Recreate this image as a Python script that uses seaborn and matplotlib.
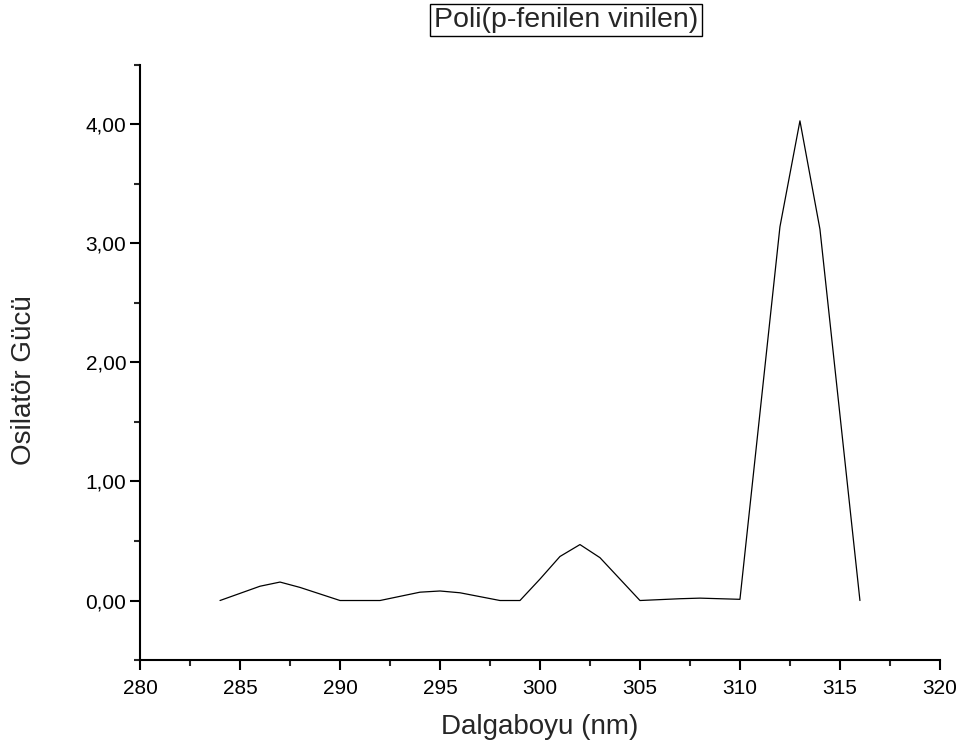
import matplotlib
matplotlib.use("Agg")
import matplotlib.pyplot as plt
import seaborn as sns
import pandas as pd
from matplotlib.ticker import MultipleLocator, FuncFormatter

wavelength = [284, 286, 287, 288, 290, 292, 294, 295, 296, 298, 299, 300, 301,
              302, 303, 305, 307, 308, 310, 312, 313, 314, 316]
strength = [0.0, 0.12, 0.155, 0.11, 0.0, 0.0, 0.07, 0.08, 0.065, 0.0, 0.0, 0.18, 0.37,
            0.47, 0.36, 0.0, 0.015, 0.02, 0.01, 3.14, 4.03, 3.12, 0.0]
title = "Poli(p-fenilen vinilen)"
xlabel = "Dalgaboyu (nm)"
ylabel = "Osilatör Gücü"

df = pd.DataFrame({"x": wavelength, "y": strength})

sns.set_style("ticks")
plt.rcParams['font.family'] = ['Liberation Sans', 'DejaVu Sans']

fig = plt.figure(figsize=(9.67, 7.55), dpi=100)
ax = fig.add_axes([0.1448, 0.1258, 0.972 - 0.1448, 0.914 - 0.1258])
sns.lineplot(data=df, x="x", y="y", ax=ax, color="black", linewidth=0.9)

ax.set_xlim(280, 320)
ax.set_ylim(-0.5, 4.5)
ax.xaxis.set_major_locator(MultipleLocator(5))
ax.xaxis.set_minor_locator(MultipleLocator(2.5))
ax.yaxis.set_major_locator(MultipleLocator(1))
ax.yaxis.set_minor_locator(MultipleLocator(0.5))
ax.yaxis.set_major_formatter(FuncFormatter(lambda v, p: f"{v:.2f}".replace(".", ",")))
ax.set_yticks([0, 1, 2, 3, 4])
ax.tick_params(axis="both", which="major", direction="out", length=7, width=1.5,
               labelsize=15, colors="black")
ax.tick_params(axis="x", which="major", pad=7)
ax.tick_params(axis="y", which="major", pad=3)
ax.tick_params(axis="both", which="minor", direction="out", length=4, width=1.5)
for s in ["top", "right"]:
    ax.spines[s].set_visible(False)
for s in ["left", "bottom"]:
    ax.spines[s].set_linewidth(1.5)
    ax.spines[s].set_color("black")

ax.set_xlabel(xlabel, fontsize=20)
ax.xaxis.label.set_va("center")
ax.xaxis.set_label_coords(0.5, -0.113)
ax.set_ylabel(ylabel, fontsize=20)
ax.yaxis.label.set_va("center")
ax.yaxis.set_label_coords(-0.145, 0.47)

fig.text(566 / 967, 1 - 20 / 755, title, fontsize=20.5, ha="center", va="center",
         bbox=dict(boxstyle="square,pad=0.12", facecolor="white", edgecolor="black", linewidth=1))

fig.savefig("out.png", dpi=100, facecolor="white")
